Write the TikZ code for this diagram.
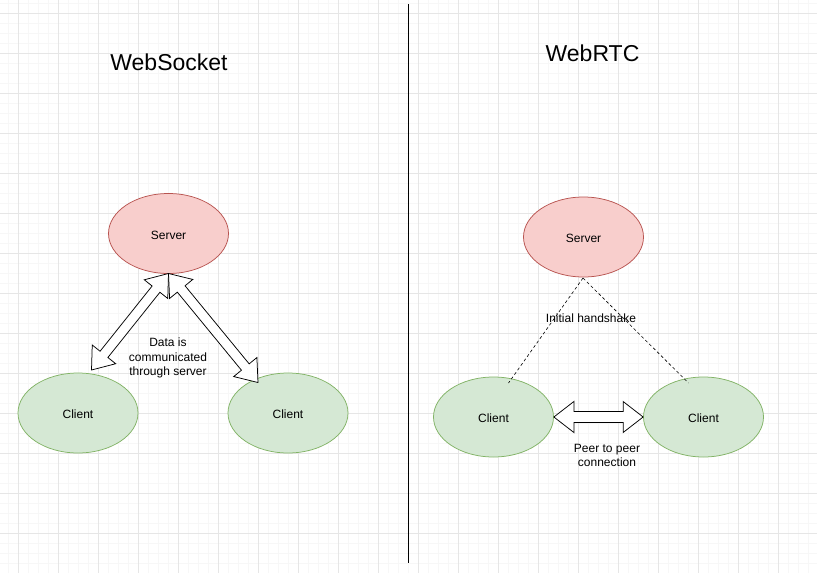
\documentclass[tikz,border=0pt]{standalone}
\usepackage{fontspec}
\setmainfont{Liberation Sans}
\usetikzlibrary{shapes.geometric,calc}
\definecolor{srvfill}{HTML}{F8CECC}
\definecolor{srvline}{HTML}{B85450}
\definecolor{clifill}{HTML}{D5E8D4}
\definecolor{cliline}{HTML}{82B366}
\definecolor{gridmajor}{HTML}{E6E6E6}
\definecolor{gridminor}{HTML}{F7F7F7}
\newcommand\flexarr[5]{% from, to, head length, shaft half width, head half width
  \draw[flexstyle] (#1)
    -- ($(#1)!#3!(#2)!#5!90:(#2)$)
    -- ($(#1)!#3!(#2)!#4!90:(#2)$)
    -- ($(#2)!#3!(#1)!#4!-90:(#1)$)
    -- ($(#2)!#3!(#1)!#5!-90:(#1)$)
    -- (#2)
    -- ($(#2)!#3!(#1)!#5!90:(#1)$)
    -- ($(#2)!#3!(#1)!#4!90:(#1)$)
    -- ($(#1)!#3!(#2)!#4!-90:(#2)$)
    -- ($(#1)!#3!(#2)!#5!-90:(#2)$)
    -- cycle;}
\newcommand\lowtxt[1]{\raisebox{-5.5pt}[0pt][0pt]{#1}}
\begin{document}
\begin{tikzpicture}[x=1pt,y=-1pt,
  server/.style={ellipse,draw=srvline,fill=srvfill,line width=0.75pt,minimum width=120pt,minimum height=80pt,inner sep=0pt,font=\fontsize{12}{14}\selectfont},
  client/.style={ellipse,draw=cliline,fill=clifill,line width=0.75pt,minimum width=120pt,minimum height=80pt,inner sep=0pt,font=\fontsize{12}{14}\selectfont},
  title/.style={anchor=base,inner sep=0pt,font=\fontsize{23}{27}\selectfont},
  lbl/.style={align=center,inner sep=0pt,font=\fontsize{12}{14.5}\selectfont},
  flexstyle/.style={draw=black,fill=white,line width=0.75pt,line join=miter},
  handshake/.style={draw=black,line width=0.6pt,dash pattern=on 3pt off 2.5pt}]
\useasboundingbox (0,0) rectangle (817,573);
\fill[white] (0,0) rectangle (817,573);
% grid
\foreach \x in {8,18,...,817} {\draw[gridminor,line width=0.6pt] (\x,0) -- (\x,573);}
\foreach \y in {3,13,...,573} {\draw[gridminor,line width=0.6pt] (0,\y) -- (817,\y);}
\foreach \x in {18,58,...,817} {\draw[gridmajor,line width=0.7pt] (\x,0) -- (\x,573);}
\foreach \y in {13,53,...,573} {\draw[gridmajor,line width=0.7pt] (0,\y) -- (817,\y);}
% divider
\coordinate (divtop) at (408,4);
\coordinate (divbot) at (408,563);
\draw[black,line width=1pt] (divtop) -- (divbot);
% titles
\node[title] (t1) at (169,70) {WebSocket};
\node[title] (t2) at (592.5,61.5) {WebRTC};
% WebSocket side
\node[server] (s1) at (168.5,233.5) {\lowtxt{Server}};
\node[client] (c1) at (78,413) {\lowtxt{Client}};
\node[client] (c2) at (288,413) {\lowtxt{Client}};
\coordinate (s1b) at (168.5,273.5);
\coordinate (c1t) at (91.5,370);
\coordinate (c2t) at (258,382.5);
\flexarr{s1b}{c1t}{20pt}{5pt}{15pt}
\flexarr{s1b}{c2t}{20pt}{5pt}{15pt}
\node[lbl] (l1) at (168,358) {Data is\\communicated\\through server};
% WebRTC side
\node[server] (s2) at (583.5,237) {\lowtxt{Server}};
\node[client] (c3) at (493.5,417) {\lowtxt{Client}};
\node[client] (c4) at (703.5,417) {\lowtxt{Client}};
\coordinate (s2b) at (583,278);
\coordinate (c3t) at (508.5,383);
\coordinate (c4t) at (688.5,383);
\draw[handshake] (s2b) -- (c3t);
\draw[handshake] (s2b) -- (c4t);
\node[lbl] (l2) at (591,318.5) {Initial handshake};
\flexarr{c3.east}{c4.west}{20pt}{5.5pt}{15.5pt}
\node[lbl] (l3) at (607,455.5) {Peer to peer\\connection};
\end{tikzpicture}
\end{document}
